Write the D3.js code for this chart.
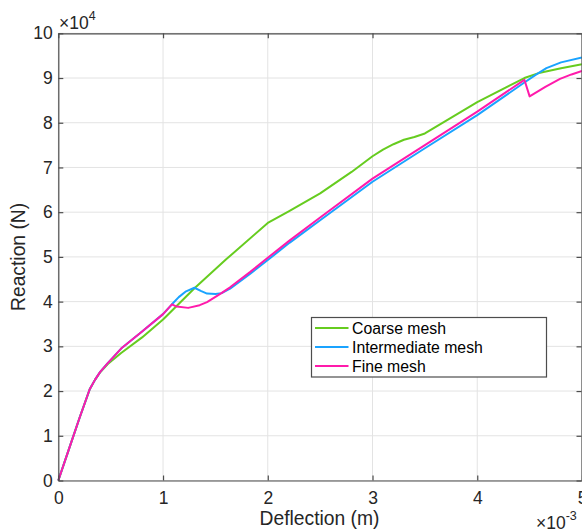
<!DOCTYPE html>
<html>
<head>
<meta charset="utf-8">
<script src="https://cdn.jsdelivr.net/npm/d3@7"></script>
<style>
  body { margin: 0; background: #fff; }
  svg { display: block; font-family: "Liberation Sans", Arial, sans-serif; }
</style>
</head>
<body>
<svg id="chart" width="582" height="530"></svg>
<script>
// deflection in 1e-3 m, reaction in 1e4 N
let coarseX = [0, 0.1, 0.2, 0.3, 0.35, 0.4, 0.47, 0.6, 0.8, 1.0, 1.3, 1.6, 2.0, 2.2, 2.5, 2.8, 3.0, 3.1, 3.2, 3.3, 3.4, 3.5, 3.7, 4.0, 4.45, 4.6, 4.8, 5.0];
let coarseY = [0, 0.69, 1.38, 2.04, 2.25, 2.42, 2.6, 2.85, 3.2, 3.6, 4.3, 4.94, 5.76, 6.02, 6.42, 6.9, 7.25, 7.4, 7.52, 7.62, 7.68, 7.76, 8.04, 8.46, 9.0, 9.12, 9.22, 9.31];

let interX = [0, 0.1, 0.2, 0.3, 0.35, 0.4, 0.47, 0.6, 0.8, 1.0, 1.085, 1.15, 1.22, 1.3, 1.36, 1.42, 1.5, 1.56, 1.64, 1.83, 2.0, 2.21, 2.5, 3.0, 3.5, 4.0, 4.45, 4.55, 4.66, 4.8, 5.0];
let interY = [0, 0.69, 1.38, 2.04, 2.25, 2.43, 2.62, 2.95, 3.33, 3.72, 3.94, 4.1, 4.23, 4.31, 4.24, 4.18, 4.17, 4.19, 4.29, 4.62, 4.93, 5.32, 5.82, 6.68, 7.43, 8.17, 8.9, 9.06, 9.22, 9.35, 9.46];

let fineX = [0, 0.1, 0.2, 0.3, 0.35, 0.4, 0.47, 0.6, 0.8, 1.0, 1.085, 1.13, 1.24, 1.35, 1.42, 1.55, 1.64, 1.83, 2.0, 2.21, 2.5, 3.0, 3.5, 4.0, 4.45, 4.5, 4.65, 4.79, 4.9, 5.0];
let fineY = [0, 0.69, 1.38, 2.04, 2.25, 2.43, 2.62, 2.95, 3.33, 3.72, 3.94, 3.89, 3.86, 3.92, 3.99, 4.18, 4.32, 4.66, 4.98, 5.37, 5.88, 6.75, 7.5, 8.25, 8.96, 8.59, 8.8, 8.98, 9.08, 9.16];

let seriesNames = ["Coarse mesh", "Intermediate mesh", "Fine mesh"];
let seriesColors = ["#66cc1f", "#1aa3ff", "#ff1aab"];
let xTicks = [0, 1, 2, 3, 4, 5];
let yTicks = [0, 1, 2, 3, 4, 5, 6, 7, 8, 9, 10];

let series = [
    coarseX.map((x, i) => ({x: x, y: coarseY[i]})),
    interX.map((x, i) => ({x: x, y: interY[i]})),
    fineX.map((x, i) => ({x: x, y: fineY[i]}))
];

let pLeft = 58.3, pRight = 582, pTop = 33.3, pBottom = 480.5;
let svg = d3.select("#chart");

let scx = d3.scaleLinear([0, 5], [pLeft, pRight]);
let scy = d3.scaleLinear([0, 10], [pBottom, pTop]);

let axcol = "#4d4d4d";
let tickFont = 17.5;
let fmt = d3.format("d");

// grid
svg.append("g").selectAll("line")
    .data(xTicks)
    .join("line")
    .attr("x1", d => scx(d)).attr("x2", d => scx(d))
    .attr("y1", pTop).attr("y2", pBottom)
    .attr("stroke", "#e3e3e3").attr("stroke-width", 1);
svg.append("g").selectAll("line")
    .data(yTicks)
    .join("line")
    .attr("x1", pLeft).attr("x2", pRight)
    .attr("y1", d => scy(d)).attr("y2", d => scy(d))
    .attr("stroke", "#e3e3e3").attr("stroke-width", 1);

// data lines
let line = d3.line().x(d => scx(d.x)).y(d => scy(d.y));
svg.append("g").selectAll("path")
    .data(series)
    .join("path")
    .attr("d", line)
    .attr("fill", "none")
    .attr("stroke", (d, i) => seriesColors[i])
    .attr("stroke-width", 2)
    .attr("stroke-linejoin", "round");

// axes box with inward ticks
let xAxisB = svg.append("g").attr("transform", `translate(0,${pBottom})`)
    .call(d3.axisBottom(scx).tickValues(xTicks).tickFormat(fmt).tickSizeInner(-5).tickSizeOuter(0).tickPadding(11));
let xAxisT = svg.append("g").attr("transform", `translate(0,${pTop})`)
    .call(d3.axisTop(scx).tickValues(xTicks).tickSizeInner(-5).tickSizeOuter(0).tickFormat(""));
let yAxisL = svg.append("g").attr("transform", `translate(${pLeft},0)`)
    .call(d3.axisLeft(scy).tickValues(yTicks).tickFormat(fmt).tickSizeInner(-5).tickSizeOuter(0).tickPadding(5.5));
let yAxisR = svg.append("g").attr("transform", `translate(${pRight - 0.5},0)`)
    .call(d3.axisRight(scy).tickValues(yTicks).tickSizeInner(-5).tickSizeOuter(0).tickFormat(""));

[xAxisB, xAxisT, yAxisL, yAxisR].forEach(g => {
    g.select(".domain").attr("stroke", axcol).attr("stroke-width", 1.2);
    g.selectAll(".tick line").attr("stroke", axcol).attr("stroke-width", 1.2);
    g.selectAll("text")
        .attr("fill", "#262626")
        .attr("font-family", "Liberation Sans, Arial, sans-serif")
        .attr("font-size", tickFont);
});

// axis labels
svg.append("text")
    .attr("x", 319.5)
    .attr("y", 524.5)
    .attr("text-anchor", "middle")
    .attr("font-size", 19.3)
    .attr("fill", "#262626")
    .text("Deflection (m)");
svg.append("text")
    .attr("transform", `translate(25,${(pTop + pBottom) / 2}) rotate(-90)`)
    .attr("text-anchor", "middle")
    .attr("font-size", 19.3)
    .attr("fill", "#262626")
    .text("Reaction (N)");

// exponent labels
let expY = svg.append("text").attr("x", 59).attr("y", 29).attr("font-size", tickFont).attr("fill", "#262626");
expY.append("tspan").text("\u00d710");
expY.append("tspan").attr("dy", -9).attr("font-size", 12.5).text("4");
let expX = svg.append("text").attr("x", 536).attr("y", 529).attr("font-size", tickFont).attr("fill", "#262626");
expX.append("tspan").text("\u00d710");
expX.append("tspan").attr("dy", -9).attr("font-size", 12.5).text("-3");

// legend
let lg = svg.append("g");
lg.append("rect")
    .attr("x", 311.5).attr("y", 317.5)
    .attr("width", 235).attr("height", 59.5)
    .attr("fill", "#fff").attr("stroke", axcol).attr("stroke-width", 1.2);
let rows = lg.selectAll("g")
    .data(seriesNames)
    .join("g")
    .attr("transform", (d, i) => `translate(0,${328 + i * 19})`);
rows.append("line")
    .attr("x1", 315).attr("x2", 348.5)
    .attr("stroke", (d, i) => seriesColors[i])
    .attr("stroke-width", 2);
rows.append("text")
    .attr("x", 352)
    .attr("dy", "0.35em")
    .attr("font-size", 15.8)
    .attr("fill", "#000")
    .text(d => d);
</script>
</body>
</html>
